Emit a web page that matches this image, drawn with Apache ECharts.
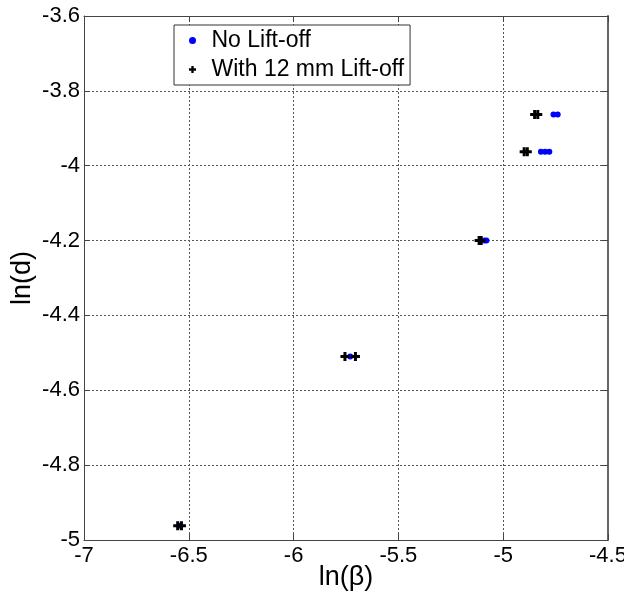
<!DOCTYPE html>
<html>
<head>
<meta charset="utf-8">
<script src="https://cdn.jsdelivr.net/npm/echarts@6/dist/echarts.min.js"></script>
<style>
  html, body { margin: 0; padding: 0; background: #fff; }
  #chart { width: 624px; height: 596px; }
</style>
</head>
<body>
<div id="chart"></div>
<script>
// ln(beta) vs ln(d) measurements
const seriesNames = ['No Lift-off', 'With 12 mm Lift-off'];

const noLiftOffX = [-4.76, -4.74, -4.82, -4.80, -4.78, -5.09, -5.08, -5.73, -6.54];
const noLiftOffY = [-3.863, -3.863, -3.963, -3.963, -3.963, -4.200, -4.200, -4.510, -4.962];

const liftOffX = [-4.85, -4.835, -4.90, -4.885, -5.115, -5.105, -5.755, -5.705, -6.553, -6.535];
const liftOffY = [-3.863, -3.863, -3.963, -3.963, -4.200, -4.200, -4.510, -4.510, -4.962, -4.962];

const xTicks = { min: -7, max: -4.5, step: 0.5 };
const yTicks = { min: -5, max: -3.6, step: 0.2 };

const FONT = '"Liberation Sans", Arial, sans-serif';
const PLUS = 'path://M3,0H6V3H9V6H6V9H3V6H0V3H3Z';

const pairs = (xs, ys) => xs.map((x, i) => [x, ys[i]]);
const fmt = v => String(+v.toFixed(2));

const chart = echarts.init(document.getElementById('chart'), null, { renderer: 'canvas' });

const gridLine = { show: true, lineStyle: { color: '#555', type: [2, 2], width: 1 } };
const frameLine = { show: true, onZero: false, lineStyle: { color: '#444', width: 1 } };
const tick = { show: true, inside: true, length: 6, lineStyle: { color: '#444' } };

chart.setOption({
  animation: false,
  backgroundColor: '#fff',
  grid: { left: 84, right: 16, top: 16, bottom: 56, containLabel: false, outerBoundsMode: 'none' },
  legend: {
    orient: 'vertical',
    left: 174,
    top: 25,
    padding: [4, 6, 4, 15],
    borderColor: '#333',
    borderWidth: 1,
    backgroundColor: '#fff',
    itemWidth: 28,
    itemHeight: 7,
    itemGap: 6,
    textStyle: { fontFamily: FONT, fontSize: 23, color: '#000', lineHeight: 22 },
    data: [
      { name: seriesNames[0], icon: 'circle' },
      { name: seriesNames[1], icon: PLUS }
    ]
  },
  xAxis: [
    {
      type: 'value', min: xTicks.min, max: xTicks.max, interval: xTicks.step,
      name: 'ln(β)', nameLocation: 'middle', nameGap: 24, nameMoveOverlap: false,
      nameTextStyle: { fontFamily: FONT, fontSize: 27, color: '#000' },
      axisLine: frameLine,
      axisTick: tick,
      axisLabel: { fontFamily: FONT, fontSize: 22, color: '#000', margin: 5, formatter: fmt },
      splitLine: gridLine
    },
    {
      type: 'value', position: 'top', min: xTicks.min, max: xTicks.max, interval: xTicks.step,
      axisLine: frameLine,
      axisTick: tick,
      axisLabel: { show: false },
      splitLine: { show: false }
    }
  ],
  yAxis: [
    {
      type: 'value', min: yTicks.min, max: yTicks.max, interval: yTicks.step,
      name: 'ln(d)', nameLocation: 'middle', nameGap: 48, nameMoveOverlap: false,
      nameTextStyle: { fontFamily: FONT, fontSize: 27, color: '#000' },
      axisLine: frameLine,
      axisTick: tick,
      axisLabel: { fontFamily: FONT, fontSize: 22, color: '#000', margin: 4, formatter: fmt },
      splitLine: gridLine
    },
    {
      type: 'value', position: 'right', min: yTicks.min, max: yTicks.max, interval: yTicks.step,
      axisLine: { show: true, onZero: false, lineStyle: { color: '#666', width: 2 } },
      axisTick: tick,
      axisLabel: { show: false },
      splitLine: { show: false }
    }
  ],
  series: [
    {
      name: seriesNames[0],
      type: 'scatter',
      xAxisIndex: 0, yAxisIndex: 0,
      symbol: 'circle',
      symbolSize: 6,
      itemStyle: { color: '#0000ff', opacity: 1 },
      data: pairs(noLiftOffX, noLiftOffY),
      z: 2
    },
    {
      name: seriesNames[1],
      type: 'scatter',
      xAxisIndex: 0, yAxisIndex: 0,
      symbol: PLUS,
      symbolSize: 9,
      itemStyle: { color: '#000', opacity: 1 },
      data: pairs(liftOffX, liftOffY),
      z: 3
    }
  ]
});
</script>
</body>
</html>
